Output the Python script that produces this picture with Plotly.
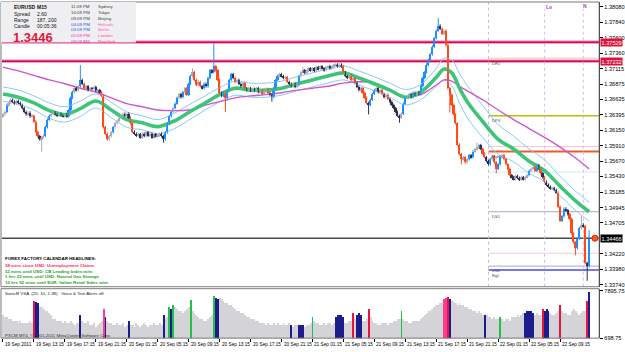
import plotly.graph_objects as go

# ---------------- DATA ----------------
PIP = 0.0001
BASE = 1.3

# M15 closes, in pips above 1.3000 (bar 0 = 19 Sep 09:15)
closes_pips = [
    640, 644, 654, 658, 663, 660, 657, 661, 658, 655,
    650, 644, 640, 643, 637, 638, 629, 613, 606, 601,
    604, 607, 620, 632, 638, 641, 643, 640, 638, 641,
    638, 637, 640, 637, 647, 666, 675, 681, 678, 684,
    694, 688, 681, 684, 678, 681, 680, 683, 677, 678,
    675, 669, 620, 610, 601, 606, 612, 620, 626, 630,
    635, 638, 641, 638, 641, 635, 626, 613, 610, 607,
    609, 604, 610, 606, 612, 607, 610, 604, 609, 606,
    607, 610, 606, 601, 612, 626, 637, 644, 650, 657,
    666, 672, 667, 675, 681, 671, 688, 700, 706, 694,
    686, 691, 684, 681, 688, 684, 697, 709, 706, 715,
    709, 694, 674, 669, 675, 666, 678, 694, 703, 697,
    691, 694, 688, 684, 689, 681, 678, 681, 677, 680,
    678, 681, 675, 678, 672, 675, 680, 674, 671, 667,
    681, 694, 700, 703, 700, 697, 698, 691, 688, 684,
    688, 683, 686, 700, 706, 709, 705, 708, 712, 709,
    712, 708, 714, 711, 715, 712, 709, 714, 715, 712,
    714, 717, 718, 715, 718, 715, 706, 700, 697, 701,
    694, 697, 689, 683, 678, 681, 674, 666, 658, 655,
    663, 672, 678, 681, 675, 678, 672, 667, 671, 664,
    660, 655, 650, 644, 638, 635, 641, 657, 666, 669,
    672, 667, 674, 671, 675, 672, 684, 697, 706, 717,
    725, 734, 746, 759, 771, 779, 774, 766, 771, 748,
    681, 671, 655, 640, 626, 593, 578, 570, 573, 565,
    570, 576, 573, 582, 586, 589, 592, 586, 579, 573,
    567, 562, 570, 575, 565, 555, 562, 573, 576, 570,
    562, 555, 545, 542, 539, 544, 541, 538, 542, 539,
    542, 545, 552, 555, 558, 552, 561, 555, 548, 542,
    535, 530, 527, 524, 525, 522, 518, 496, 474, 481,
    493, 490, 484, 477, 454, 440, 431, 446, 462, 468,
    465, 408, 403, 445,
]
first_open_pips = 637
special_highs_pips = {40: 717, 98: 712, 109: 751, 155: 714, 219: 720, 225: 791,
                      245: 596, 299: 482, 303: 459}
special_lows_pips = {20: 582, 83: 596, 115: 644, 139: 660, 189: 640, 205: 627,
                     231: 643, 237: 562, 255: 548, 296: 420, 302: 380}

# SonicR VSA volume, in hundreds of ticks
volume_hundreds = [
    42, 40, 39, 37, 36, 34, 33, 34, 31, 33,
    31, 30, 31, 30, 33, 31, 64, 63, 61, 55,
    55, 52, 49, 48, 46, 43, 37, 36, 34, 33,
    34, 31, 33, 30, 31, 33, 30, 28, 31, 30,
    43, 34, 31, 30, 33, 28, 27, 30, 25, 28,
    31, 34, 52, 40, 33, 31, 30, 28, 27, 30,
    28, 27, 30, 25, 28, 34, 27, 28, 25, 30,
    27, 25, 28, 30, 27, 25, 28, 27, 30, 28,
    27, 30, 28, 43, 37, 40, 54, 52, 58, 55,
    52, 49, 48, 46, 49, 52, 55, 66, 48, 45,
    43, 40, 37, 36, 34, 33, 37, 40, 43, 72,
    69, 67, 69, 67, 64, 61, 60, 58, 57, 55,
    52, 49, 48, 46, 45, 43, 40, 39, 37, 36,
    36, 34, 33, 31, 30, 31, 28, 30, 28, 27,
    30, 28, 31, 28, 27, 30, 28, 27, 30, 27,
    25, 27, 28, 28, 28, 27, 25, 27, 28, 30,
    40, 34, 31, 30, 28, 27, 30, 28, 31, 30,
    28, 31, 40, 42, 43, 42, 40, 31, 30, 33,
    34, 46, 37, 43, 45, 42, 34, 33, 36, 52,
    40, 34, 31, 30, 28, 28, 30, 31, 30, 28,
    30, 31, 33, 34, 36, 37, 49, 37, 34, 33,
    31, 30, 33, 34, 33, 34, 37, 40, 43, 46,
    49, 48, 51, 54, 57, 58, 60, 61, 67, 69,
    70, 67, 64, 63, 61, 58, 60, 57, 58, 54,
    55, 52, 51, 49, 48, 46, 48, 45, 43, 43,
    42, 40, 39, 37, 39, 36, 37, 40, 36, 34,
    36, 37, 34, 39, 40, 39, 42, 40, 43, 45,
    46, 48, 49, 48, 46, 43, 45, 43, 42, 52,
    49, 51, 48, 45, 43, 42, 46, 49, 57, 48,
    46, 45, 43, 42, 49, 51, 48, 45, 43, 46,
    48, 48, 64, 78,
]
volume_kind = {16: 'r', 17: 'n', 18: 'n', 40: 'n', 52: 'm', 53: 'n', 65: 'n', 83: 'n',
               86: 'G', 87: 'n', 88: 'G', 97: 'G', 109: 'G', 110: 'n', 111: 'n',
               149: 'n', 153: 'n', 154: 'n', 155: 'n', 160: 'G', 172: 'n', 173: 'n',
               174: 'n', 175: 'n', 176: 'n', 181: 'r', 183: 'n', 184: 'n', 185: 'n',
               189: 'r', 206: 'G', 228: 'm', 229: 'm', 230: 'r', 231: 'n', 249: 'n',
               257: 'G', 270: 'n', 271: 'n', 272: 'n', 273: 'n', 274: 'n', 279: 'r',
               280: 'n', 281: 'n', 282: 'n', 288: 'r', 302: 'r', 303: 'n'}
volume_axis_labels = [698.75, 7895.75]

# indicator lines sampled at these bars (pips above 1.3000)
ma_idx = [0, 8, 16, 24, 32, 40, 48, 56, 64, 72, 80, 88, 96, 104, 112, 120, 128, 136,
          144, 152, 160, 168, 176, 184, 192, 200, 208, 216, 224, 228, 232, 236, 240,
          248, 256, 264, 272, 280, 288, 296, 303]
green_pips = [672, 667, 658, 646, 640, 649, 661, 647, 632, 627, 621, 629, 643, 657,
              671, 681, 678, 678, 681, 688, 694, 700, 705, 697, 688, 678, 667, 675,
              698, 711, 705, 681, 660, 629, 601, 586, 567, 552, 528, 505, 488]
upper_pips = [683, 678, 669, 658, 652, 661, 672, 659, 644, 638, 632, 641, 655, 668,
              682, 692, 689, 689, 692, 699, 705, 711, 716, 708, 699, 689, 679, 687,
              712, 728, 725, 704, 685, 654, 624, 606, 586, 569, 543, 520, 503]
lower_pips = [661, 656, 647, 634, 628, 637, 650, 635, 620, 616, 610, 617, 631, 646,
              660, 670, 667, 667, 670, 677, 683, 689, 694, 686, 677, 667, 655, 663,
              684, 694, 685, 658, 635, 604, 578, 566, 548, 535, 513, 490, 473]
magenta_pips = [714, 708, 701, 694, 688, 681, 675, 666, 657, 652, 647, 646, 647, 654,
                660, 666, 669, 671, 674, 678, 681, 684, 689, 691, 689, 678, 667, 671,
                686, 694, 692, 684, 677, 663, 647, 632, 618, 604, 589, 572, 555]

price_ticks = [1.38080, 1.37840, 1.37600, 1.37360, 1.37115, 1.36875, 1.36635, 1.36395,
               1.36150, 1.35910, 1.35670, 1.35430, 1.35185, 1.34945, 1.34705, 1.34220,
               1.33980, 1.33740]
red_levels = [1.37529, 1.37232]
current_price = 1.34466
pivot_start = 251
pivot_levels = [("DR1", 1.3728, "#F5C6A8", 1), ("DPV", 1.3638, "#BDBD00", 1.5),
                ("RgH", 1.3582, "#F05A28", 2), ("DS1", 1.3488, "#A8A8CC", 1),
                ("DS2", 1.3403, "#A8A8CC", 1), ("RgL", 1.3397, "#4A4AE6", 1.5)]
pivot_label_shift = {"DS2": 0.5, "RgL": -1.5}
faint_levels = [(1.3590, "#F2C4D4"), (1.3550, "#CBEFF5"), (1.3423, "#F2D0D0")]

time_tick_idx = [0, 16, 32, 48, 64, 80, 96, 112, 128, 144, 160, 176, 192, 208, 224,
                 240, 256, 272, 288]
time_tick_text = ["19 Sep 2011", "19 Sep 13:15", "19 Sep 17:15", "19 Sep 21:15",
                  "20 Sep 01:15", "20 Sep 05:15", "20 Sep 09:15", "20 Sep 13:15",
                  "20 Sep 17:15", "20 Sep 21:15", "21 Sep 01:15", "21 Sep 05:15",
                  "21 Sep 09:15", "21 Sep 13:15", "21 Sep 17:15", "21 Sep 21:15",
                  "22 Sep 01:15", "22 Sep 05:15", "22 Sep 09:15"]

info_left = [("EURUSD", "M15"), ("Spread", "2.60"), ("Range", "187, 200"),
             ("Candle", "00:05:36")]
info_price = "1.3446"
clock_times = ["11:09 PM", "10:09 PM", "09:09 PM", "04:09 PM", "03:09 PM", "02:09 PM", "09:09 AM"]
clock_cities = ["Sydney", "Tokyo", "Beijing", "Helsinki", "Berlin", "London", "NewYork"]
clock_time_colors = ["#404040", "#404040", "#404040", "#2A52E6", "#2A52E6", "#D83CC0", "#D83CC0"]
clock_city_colors = ["#404040", "#404040", "#404040", "#FF5CC4", "#FF5CC4", "#FF4CB4", "#FF3C8C"]

headlines = [("FOREX FACTORY CALENDAR HEADLINES:", "#000000"),
             ("38 mins since USD: Unemployment Claims", "#FF1E5A"),
             ("52 mins until USD: CB Leading Index m/m", "#2AA02A"),
             ("1 hrs 22 mins until USD: Natural Gas Storage", "#2AA02A"),
             ("10 hrs 52 mins until EUR: Italian Retail Sales m/m", "#2AA02A")]

# ---------------- BUILD ----------------
W, H = 625, 352
def px(p): return p / W
def py(p): return 1 - p / H

n = len(closes_pips)
idx = list(range(n))
closes = [BASE + c * PIP for c in closes_pips]
opens = [BASE + first_open_pips * PIP] + closes[:-1]
highs, lows = [], []
for i, (o, c) in enumerate(zip(opens, closes)):
    hi = BASE + special_highs_pips[i] * PIP if i in special_highs_pips else max(o, c) + 2 * PIP
    lo = BASE + special_lows_pips[i] * PIP if i in special_lows_pips else min(o, c) - 2 * PIP
    highs.append(hi)
    lows.append(lo)

CAT_COL = {'ub': '#1E8FFF', 'db': '#FF4A1C', 'u': '#ABABB8', 'd': '#2C3150'}
cats = []
for o, c in zip(opens, closes):
    d = c - o
    if d >= 6 * PIP:
        cats.append('ub')
    elif d <= -6 * PIP:
        cats.append('db')
    elif d >= 0:
        cats.append('u')
    else:
        cats.append('d')

bases = [min(o, c) for o, c in zip(opens, closes)]
bodies = [max(abs(c - o), 0.8 * PIP) for o, c in zip(opens, closes)]

fig = go.Figure()

def ma_trace(vals, color, width, dash='solid'):
    return go.Scatter(x=ma_idx, y=[BASE + v * PIP for v in vals], mode='lines',
                      line=dict(color=color, width=width, shape='spline', smoothing=1.0, dash=dash),
                      xaxis='x', yaxis='y', hoverinfo='skip')

fig.add_trace(ma_trace(upper_pips, '#8CC8F2', 1))
fig.add_trace(ma_trace(lower_pips, '#8CC8F2', 1))
fig.add_trace(ma_trace(magenta_pips, '#D055D0', 1.4))
fig.add_trace(ma_trace(green_pips, '#3CC478', 3.6))

for k, col in CAT_COL.items():
    xs, ys = [], []
    for i in idx:
        if cats[i] == k:
            xs += [i, i, None]
            ys += [lows[i], highs[i], None]
    fig.add_trace(go.Scatter(x=xs, y=ys, mode='lines', line=dict(color=col, width=1),
                             xaxis='x', yaxis='y', hoverinfo='skip'))

fig.add_trace(go.Bar(x=idx, y=bodies, base=bases, width=0.85,
                     marker=dict(color=[CAT_COL[c] for c in cats], line=dict(width=0)),
                     xaxis='x', yaxis='y', hoverinfo='skip'))

fig.add_trace(go.Scatter(x=[306], y=[current_price], mode='markers',
                         marker=dict(color='#FF5A1E', size=6, line=dict(color='#C83200', width=1)),
                         xaxis='x', yaxis='y', hoverinfo='skip'))

VCOL = {'g': '#D3D3D8', 'r': '#E8143C', 'n': '#1C1C8C', 'G': '#22C04A', 'm': '#FF3C96'}
vols = [v * 100 for v in volume_hundreds]
vcols = [VCOL[volume_kind.get(i, 'g')] for i in idx]
fig.add_trace(go.Bar(x=idx, y=vols, width=0.5, marker=dict(color=vcols, line=dict(width=0)),
                     xaxis='x2', yaxis='y2', hoverinfo='skip'))

# ---------------- SHAPES ----------------
shapes = []
XR = [-0.51, 308.2]
YR = [1.33708, 1.381575]
for lvl, col in faint_levels:
    shapes.append(dict(type='line', xref='x', yref='y', x0=pivot_start, x1=XR[1], y0=lvl, y1=lvl,
                       line=dict(color=col, width=1), layer='below'))
for name, lvl, col, wdt in pivot_levels:
    shapes.append(dict(type='line', xref='x', yref='y', x0=pivot_start, x1=XR[1], y0=lvl, y1=lvl,
                       line=dict(color=col, width=wdt), layer='below'))
for lvl in red_levels:
    shapes.append(dict(type='line', xref='x', yref='y', x0=XR[0], x1=XR[1], y0=lvl, y1=lvl,
                       line=dict(color='#F27CC8', width=3.2), layer='below'))
    shapes.append(dict(type='line', xref='x', yref='y', x0=XR[0], x1=XR[1], y0=lvl, y1=lvl,
                       line=dict(color='#D0103A', width=1.5), layer='below'))
shapes.append(dict(type='line', xref='x', yref='y', x0=XR[0], x1=XR[1], y0=current_price,
                   y1=current_price, line=dict(color='#4A4A4A', width=1.5), layer='below'))
shapes.append(dict(type='line', xref='x', yref='y', x0=pivot_start, x1=pivot_start, y0=YR[0], y1=YR[1],
                   line=dict(color='#C4C4C4', width=1, dash='dot'), layer='below'))
for vx in (280, 300):
    shapes.append(dict(type='line', xref='x', yref='y', x0=vx, x1=vx, y0=YR[0], y1=1.3805,
                       line=dict(color='#DDB4EA', width=1, dash='dot'), layer='below'))
for (t, b) in ((1, 289), (291, 341)):
    shapes.append(dict(type='rect', xref='paper', yref='paper', x0=px(1), x1=px(604),
                       y0=py(b), y1=py(t), line=dict(color='#7A7A7A', width=1), layer='above'))
shapes.append(dict(type='rect', xref='paper', yref='paper', x0=px(1), x1=px(137), y0=py(42),
                   y1=py(1), fillcolor='#EFEFF1', line=dict(width=0), layer='above'))

# ---------------- ANNOTATIONS ----------------
ann = []
FONT = "Liberation Sans"
def txt(x, y, s, size, color='#000000', bold=False, xanchor='left', **kw):
    d = dict(x=x, y=y, text=("<b>%s</b>" % s) if bold else s, showarrow=False,
             font=dict(family=FONT, size=size, color=color), xanchor=xanchor, yanchor='middle')
    d.update(kw)
    return d

rows_y = [5.8, 13.5, 19.5, 25.5]
for (lab, val), yy in zip(info_left, rows_y):
    b = lab == "EURUSD"
    ann.append(txt(px(12), py(yy), lab, 5.0, '#101010', bold=b, xref='paper', yref='paper'))
    ann.append(txt(px(35), py(yy), val, 5.0, '#101010', bold=b, xref='paper', yref='paper'))
ann.append(txt(px(11), py(36.5), info_price, 13, '#E3173E', bold=True, xref='paper', yref='paper'))
clock_y = [6, 12, 18, 23.5, 29, 35, 41]
for t, c, tc, cc, yy in zip(clock_times, clock_cities, clock_time_colors, clock_city_colors, clock_y):
    ann.append(txt(px(70), py(yy), t, 4.4, tc, xref='paper', yref='paper'))
    ann.append(txt(px(97), py(yy), c, 4.4, cc, xref='paper', yref='paper'))

hl_y = [260, 267.7, 273.3, 279, 284.7]
for (s, col), yy in zip(headlines, hl_y):
    ann.append(txt(px(3), py(yy), s, 4.4, col, bold=True, xref='paper', yref='paper'))

ann.append(txt(px(3), py(296), "SonicR VSA  (20, 10, 1.38)   Voice &amp; Text Alerts off.", 4.4,
               '#202020', xref='paper', yref='paper'))
ann.append(txt(px(3), py(338), "PXCM MT4, \u00a9 2001-2011 MetaQuotes Software Corp.", 4.4,
               '#303030', xref='paper', yref='paper'))

for name, lvl, col, wdt in pivot_levels:
    ann.append(dict(x=pivot_start + 0.8, y=lvl, xref='x', yref='y', text=name, showarrow=False,
                    xanchor='left', yanchor='top', yshift=pivot_label_shift.get(name, -0.5),
                    font=dict(family=FONT, size=4.2, color='#505050')))

ann.append(txt(px(548), py(6), "Lo", 5, '#9A3CD0', bold=True, xref='paper', yref='paper'))
ann.append(txt(px(586), py(5.5), "N", 5, '#9A3CD0', bold=True, xref='paper', yref='paper'))

for lvl in red_levels:
    ann.append(dict(x=px(605), y=lvl, xref='paper', yref='y', text="%.5f" % lvl, showarrow=False,
                    xanchor='left', yanchor='middle', bgcolor='#E0103C', borderpad=0.5,
                    font=dict(family=FONT, size=5.6, color='#FFFFFF')))
ann.append(dict(x=px(605), y=current_price, xref='paper', yref='y', text="%.5f" % current_price,
                showarrow=False, xanchor='left', yanchor='middle', bgcolor='#000000', borderpad=0.5,
                font=dict(family=FONT, size=5.6, color='#FFFFFF')))

for i, s in zip(time_tick_idx, time_tick_text):
    ann.append(dict(x=i, y=py(347), xref='x2', yref='paper', text=s, showarrow=False,
                    xanchor='left', yanchor='middle',
                    font=dict(family=FONT, size=4.7, color='#000000')))

# ---------------- LAYOUT ----------------
fig.update_layout(
    width=W, height=H, margin=dict(l=0, r=0, t=0, b=0),
    paper_bgcolor='white', plot_bgcolor='white', showlegend=False,
    barmode='overlay', bargap=0, hovermode=False,
    font=dict(family=FONT, size=6, color='#000'),
    xaxis=dict(domain=[px(2), px(604)], range=XR, showticklabels=False, showgrid=False,
               zeroline=False, ticks='', anchor='y'),
    yaxis=dict(domain=[py(289), py(1)], range=YR, side='right', anchor='x',
               tickvals=price_ticks, ticktext=["%.5f" % p for p in price_ticks],
               tickfont=dict(family=FONT, size=5.6, color='#000'), ticks='outside',
               ticklen=3, tickcolor='#000', showgrid=False, zeroline=False,
               showline=True, linecolor='#000', linewidth=1),
    xaxis2=dict(domain=[px(2), px(604)], range=XR, matches='x', anchor='y2',
                tickvals=time_tick_idx, showticklabels=False, ticks='outside', ticklen=3,
                tickcolor='#000', showgrid=False, zeroline=False),
    yaxis2=dict(domain=[py(341), py(291)], range=[698.75, 8195], side='right', anchor='x2',
                tickvals=volume_axis_labels, ticktext=["%.2f" % v for v in volume_axis_labels],
                tickfont=dict(family=FONT, size=5.6, color='#000'), ticks='outside', ticklen=3,
                tickcolor='#000', showgrid=False, zeroline=False, showline=True,
                linecolor='#000', linewidth=1),
    shapes=shapes, annotations=ann,
)

fig.write_html("out.html")
